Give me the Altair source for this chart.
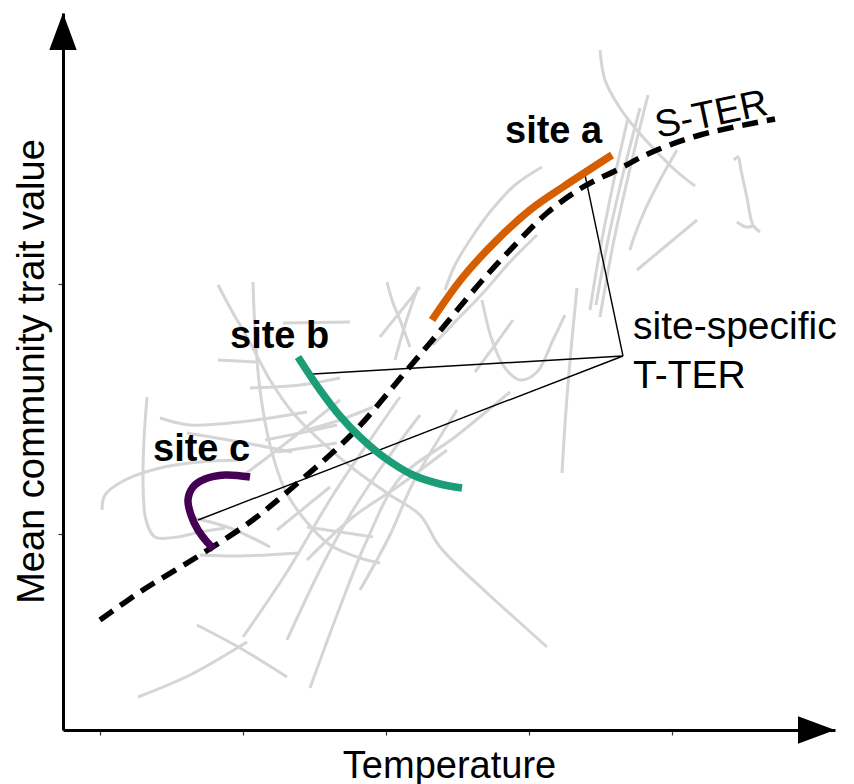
import altair as alt
import pandas as pd

# ---- axis units (origin at the axes' corner) ----
x_domain = [0, 772]
y_domain = [0, 717]
x_tick_values = [37, 180, 323, 466, 609]
y_tick_values = [196, 446, 696]

# ---- spatial trait-environment relationship (S-TER) ----
ster_x = [37, 80, 137, 187, 230, 290, 344, 367, 417, 450, 484, 520, 554, 587, 637, 712]
ster_y = [110, 140, 175, 208, 243, 297, 360, 387, 447, 483, 517, 543, 560, 577, 595, 611]

# ---- site-specific temporal curves ----
site_a_x = [369, 400, 434, 467, 500, 549]
site_a_y = [410, 453, 490, 520, 543, 575]
site_b_x = [235, 257, 277, 297, 322, 350, 377, 399]
site_b_y = [373, 340, 314, 293, 272, 255, 246, 242]
site_c_x = [187, 162, 142, 130, 125, 128, 135, 144, 151]
site_c_y = [253, 255, 251, 243, 230, 215, 200, 188, 181]
site_names = ["site a", "site b", "site c"]
site_colors = ["#D55E00", "#1B9E77", "#440154"]

# ---- annotation lines from the T-TER label ----
tter_vertex_x = 560
tter_vertex_y = 374
tter_target_x = [521, 250, 135]
tter_target_y = [560, 356, 210]

# ---- background (other sites) curves ----
gray_lines = [
    [(537, 680), (542, 650), (555, 625), (572, 602), (592, 580), (612, 560), (632, 544)],
    [(585, 635), (569, 570), (551, 490), (537, 413)],
    [(565, 612), (551, 550), (537, 480), (527, 420)],
    [(577, 622), (561, 560), (545, 490), (533, 425)],
    [(614, 580), (597, 550), (582, 520), (570, 490), (567, 480)],
    [(574, 460), (604, 485), (634, 510)],
    [(671, 570), (675, 573), (678, 560), (684, 532), (690, 505), (697, 498)],
    [(674, 508), (683, 503), (690, 504)],
    [(479, 563), (452, 545), (427, 518), (407, 490), (392, 465), (382, 440)],
    [(474, 495), (447, 468), (420, 437), (392, 408), (370, 385)],
    [(514, 442), (508, 380), (503, 320), (499, 257)],
    [(419, 430), (429, 390), (442, 362), (457, 350), (474, 358), (490, 390), (502, 415)],
    [(450, 410), (432, 385), (412, 358)],
    [(447, 338), (392, 293), (337, 252), (304, 190), (277, 123), (247, 42)],
    [(155, 445), (170, 417), (184, 393), (207, 350), (230, 317), (260, 287), (292, 260),
     (327, 235), (357, 215), (377, 183), (424, 137), (454, 110), (484, 83)],
    [(190, 448), (192, 400), (197, 340), (207, 285), (222, 240), (242, 210), (267, 185),
     (297, 172), (317, 167)],
    [(155, 370), (195, 368)],
    [(220, 407), (287, 408)],
    [(187, 342), (237, 345), (277, 352)],
    [(97, 312), (127, 305), (177, 308), (244, 318)],
    [(39, 220), (42, 235), (62, 250), (97, 262), (137, 268), (177, 270)],
    [(84, 333), (81, 290), (80, 250), (83, 210), (92, 193), (114, 193), (137, 198), (162, 202)],
    [(137, 175), (177, 174), (237, 177)],
    [(127, 213), (167, 202), (207, 183)],
    [(180, 93), (222, 155), (270, 235), (307, 290), (337, 333)],
    [(224, 90), (257, 160), (287, 215), (322, 268), (357, 315)],
    [(134, 105), (177, 82), (224, 53)],
    [(75, 33), (127, 55), (184, 88)],
    [(244, 300), (277, 310), (310, 323)],
    [(214, 200), (267, 243)],
    [(244, 203), (277, 198), (310, 193)],
    [(244, 170), (290, 213), (337, 245), (384, 280)],
    [(297, 140), (327, 195), (350, 247), (394, 320)],
    [(324, 448), (330, 427), (337, 410), (347, 383)],
    [(355, 443), (342, 405), (332, 370)],
    [(357, 443), (337, 418), (317, 393)],
    [(202, 290), (237, 297), (274, 305)],
    [(214, 278), (274, 287)],
    [(177, 252), (227, 290), (277, 330)],
    [(124, 297), (177, 288), (229, 278)],
]

# ---- text labels ----
bold_labels = ["site a", "site b", "site c"]
bold_label_x = [442, 167, 90]
bold_label_y = [587, 382, 269]
plain_labels = ["site-specific", "T-TER"]
plain_label_x = [570, 570]
plain_label_y = [391, 342]
ster_label = "S-TER"
ster_label_x = 595
ster_label_y = 592

# ---- arrow heads on the axes ----
arrow_up_pos = (0, 698.5)
arrow_right_pos = (753.5, 0)

FONT = "Liberation Sans"
FS = 38
SMOOTH = "catmull-rom"

# ---------- build tables ----------
gray_rows = []
for gid, line in enumerate(gray_lines):
    for i, (gx, gy) in enumerate(line):
        gray_rows.append({"id": gid, "i": i, "x": gx, "y": gy})
gray_df = pd.DataFrame(gray_rows)

ster_df = pd.DataFrame({"x": ster_x, "y": ster_y, "i": range(len(ster_x))})

site_rows = []
for name, xs_, ys_ in zip(site_names, [site_a_x, site_b_x, site_c_x], [site_a_y, site_b_y, site_c_y]):
    for i, (sx, sy) in enumerate(zip(xs_, ys_)):
        site_rows.append({"site": name, "i": i, "x": sx, "y": sy})
site_df = pd.DataFrame(site_rows)

annot_df = pd.DataFrame({
    "x": [tter_vertex_x] * 3, "y": [tter_vertex_y] * 3,
    "x2": tter_target_x, "y2": tter_target_y,
})

bold_df = pd.DataFrame({"label": bold_labels, "x": bold_label_x, "y": bold_label_y})
plain_df = pd.DataFrame({"label": plain_labels, "x": plain_label_x, "y": plain_label_y})
ster_label_df = pd.DataFrame({"label": [ster_label], "x": [ster_label_x], "y": [ster_label_y]})
arrow_up_df = pd.DataFrame({"x": [arrow_up_pos[0]], "y": [arrow_up_pos[1]]})
arrow_right_df = pd.DataFrame({"x": [arrow_right_pos[0]], "y": [arrow_right_pos[1]]})

# ---------- encodings ----------
x_axis = alt.Axis(
    values=x_tick_values, labels=False, ticks=True, tickSize=5, tickWidth=1.2,
    tickColor="#333333", domainColor="black", domainWidth=3, grid=False,
    title="Temperature", titleFont=FONT, titleFontSize=FS, titleFontWeight="normal",
    titleColor="black", titleX=386, titleY=47, titleBaseline="alphabetic", titleAlign="center",
)
y_axis = alt.Axis(
    values=y_tick_values, labels=False, ticks=True, tickSize=5, tickWidth=1.2,
    tickColor="#333333", domainColor="black", domainWidth=3, grid=False,
    title="Mean community trait value", titleFont=FONT, titleFontSize=FS,
    titleFontWeight="normal", titleColor="black", titleAngle=270, titleX=-20, titleY=358,
    titleBaseline="alphabetic", titleAlign="center",
)
xs = alt.Scale(domain=x_domain, nice=False, zero=False)
ys = alt.Scale(domain=y_domain, nice=False, zero=False)
X = alt.X("x:Q", scale=xs, axis=x_axis)
Y = alt.Y("y:Q", scale=ys, axis=y_axis)

gray = alt.Chart(gray_df).mark_line(color="#D5D5D5", strokeWidth=3, interpolate=SMOOTH).encode(
    x=X, y=Y, detail="id:N", order="i:Q")

annot = alt.Chart(annot_df).mark_rule(color="black", strokeWidth=1.4).encode(
    x=X, y=Y, x2="x2:Q", y2="y2:Q")

ster = alt.Chart(ster_df).mark_line(
    color="black", strokeWidth=5.5, strokeDash=[16, 9], interpolate=SMOOTH
).encode(x=X, y=Y, order="i:Q")

sites = alt.Chart(site_df).mark_line(strokeWidth=7.5, interpolate=SMOOTH).encode(
    x=X, y=Y, detail="site:N", order="i:Q",
    color=alt.Color("site:N", scale=alt.Scale(domain=site_names, range=site_colors), legend=None))

bold_text = alt.Chart(bold_df).mark_text(
    font=FONT, fontSize=FS, fontWeight="bold", align="left", baseline="alphabetic", color="black"
).encode(x=X, y=Y, text="label:N")

plain_text = alt.Chart(plain_df).mark_text(
    font=FONT, fontSize=39, align="left", baseline="alphabetic", color="black"
).encode(x=X, y=Y, text="label:N")

ster_text = alt.Chart(ster_label_df).mark_text(
    font=FONT, fontSize=FS, align="left", baseline="alphabetic", color="black", angle=348
).encode(x=X, y=Y, text="label:N")

arrow_up = alt.Chart(arrow_up_df).mark_point(
    shape="M0,-1L-0.74,1L0.74,1Z", size=1369, filled=True, color="black", opacity=1, strokeWidth=0
).encode(x=X, y=Y)

arrow_right = alt.Chart(arrow_right_df).mark_point(
    shape="M1,0L-1,-0.74L-1,0.74Z", size=1369, filled=True, color="black", opacity=1, strokeWidth=0
).encode(x=X, y=Y)

chart = alt.layer(
    gray, annot, ster, sites, bold_text, plain_text, ster_text, arrow_up, arrow_right
).properties(
    width=772, height=717,
    padding={"left": 55, "top": 5, "right": 11, "bottom": 54},
    autosize=alt.AutoSizeParams(type="none"),
    background="white",
).configure_view(stroke=None)

chart.save("out.html", embed_options={"renderer": "svg", "actions": False})
